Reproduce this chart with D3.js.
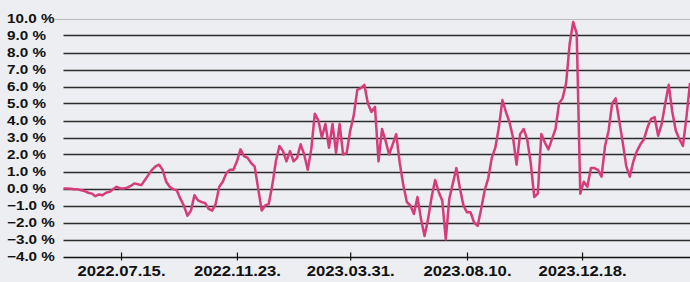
<!DOCTYPE html>
<html>
<head>
<meta charset="utf-8">
<script src="https://cdn.jsdelivr.net/npm/d3@7"></script>
<style>
  html, body { margin: 0; padding: 0; background: #eceef1; }
  svg { display: block; }
  .lbl { font-family: "Liberation Sans", Arial, sans-serif; font-weight: bold; fill: #111; }
</style>
</head>
<body>
<div id="chart"></div>
<script>
// first sample date, then one value every 4 calendar days (percent)
const startDate = "2022-05-11";
const stepDays = 4;
const values = [
  0.0, 0.0, -0.02, -0.05, -0.05, -0.1, -0.15, -0.25, -0.3, -0.45,
  -0.35, -0.4, -0.25, -0.2, -0.05, 0.1, 0.0, 0.0, 0.05, 0.15,
  0.3, 0.25, 0.2, 0.5, 0.8, 1.1, 1.3, 1.4, 1.1, 0.4,
  0.1, -0.05, -0.1, -0.6, -1.0, -1.6, -1.3, -0.4, -0.7, -0.8,
  -0.85, -1.2, -1.3, -0.9, 0.1, 0.4, 0.9, 1.1, 1.1, 1.6,
  2.3, 1.9, 1.8, 1.5, 1.3, 0.0, -1.3, -1.0, -0.9, 0.2,
  1.6, 2.5, 2.2, 1.6, 2.2, 1.6, 1.8, 2.6, 2.0, 1.1,
  2.3, 4.4, 4.0, 3.0, 3.8, 2.4, 3.8, 2.1, 3.8, 2.0,
  2.1, 3.4, 4.3, 5.8, 5.9, 6.1, 5.0, 4.5, 4.8, 1.6,
  3.5, 2.8, 2.0, 2.6, 3.2, 1.5, 0.2, -0.8, -1.0, -1.5,
  -0.5, -1.8, -2.8, -1.8, -0.5, 0.5, -0.2, -0.7, -3.0, -0.6,
  0.3, 1.2, 0.0, -1.0, -1.4, -1.4, -2.0, -2.2, -1.2, -0.1,
  0.6, 1.8, 2.4, 3.6, 5.2, 4.5, 3.9, 3.0, 1.4, 3.2,
  3.5, 2.9, 1.5, -0.5, -0.3, 3.2, 2.7, 2.3, 2.9, 3.5,
  5.0, 5.3, 6.2, 8.5, 9.8, 9.1, -0.3, 0.4, 0.1, 1.2,
  1.2, 1.1, 0.7, 2.5, 3.4, 5.0, 5.3, 4.0, 2.7, 1.3,
  0.7, 1.6, 2.2, 2.6, 2.9, 3.6, 4.1, 4.2, 3.1, 3.8,
  5.0, 6.1, 4.5, 3.4, 2.9, 2.5, 4.2, 6.2
];
const endDate = "2024-04-18";
const yTicks = [-4, -3, -2, -1, 0, 1, 2, 3, 4, 5, 6, 7, 8, 9, 10];
const xTickDates = ["2022-07-15", "2022-11-23", "2023-03-31", "2023-08-10", "2023-12-18"];

const width = 690, height = 282;
const plot = { left: 63.5, right: 690, top: 18.5, bottom: 256.5 };

const parse = d3.utcParse("%Y-%m-%d");
const t0 = parse(startDate);
const data = values.map((v, i) => ({ date: d3.utcDay.offset(t0, i * stepDays), value: v }));

const svg = d3.select("#chart").append("svg")
  .attr("width", width)
  .attr("height", height);

const x = d3.scaleUtc()
  .domain([t0, parse(endDate)])
  .range([plot.left, plot.right]);

const y = d3.scaleLinear()
  .domain([-4, 10])
  .range([plot.bottom, plot.top]);

// horizontal grid lines
svg.append("g")
  .selectAll("line")
  .data(yTicks.filter(d => d > -4))
  .join("line")
  .attr("x1", d => d === 10 ? 55 : plot.left)
  .attr("x2", plot.right)
  .attr("y1", d => Math.round(y(d)) + 0.5)
  .attr("y2", d => Math.round(y(d)) + 0.5)
  .attr("stroke", d => d === 10 ? "#b9bbbf" : "#2b2b2b")
  .attr("stroke-width", d => d === 10 ? 1 : 1.5);

// y labels
svg.append("g")
  .selectAll("text")
  .data(yTicks)
  .join("text")
  .attr("class", "lbl")
  .attr("transform", d => `translate(7,${y(d) + 4.3}) scale(1.22,1)`)
  .style("font-size", "12.5px")
  .text(d => d3.format(".1f")(d) + " %");

// x axis
const xAxis = d3.axisBottom(x)
  .tickValues(xTickDates.map(parse))
  .tickSize(0)
  .tickFormat(d3.utcFormat("%Y.%m.%d."));

const gx = svg.append("g")
  .attr("transform", `translate(0,${Math.round(plot.bottom) + 0.5})`)
  .call(xAxis);
gx.select(".domain")
  .attr("d", `M${plot.left},0H${plot.right}`)
  .attr("stroke", "#111")
  .attr("stroke-width", 1.5);
gx.selectAll(".tick line").remove();
gx.selectAll(".tick").append("line")
  .attr("y1", -5).attr("y2", 3)
  .attr("stroke", "#111")
  .attr("stroke-width", 1.2);
// scale is around the tick origin, so text stays centred
gx.selectAll(".tick text")
  .attr("class", "lbl")
  .attr("x", 0)
  .attr("y", 19)
  .attr("dy", 0)
  .attr("transform", "scale(1.15,1)")
  .style("font-size", "14.5px");

// the series line
const line = d3.line()
  .x(d => x(d.date))
  .y(d => y(d.value));

svg.append("path")
  .datum(data)
  .attr("d", line)
  .attr("fill", "none")
  .attr("stroke", "#d63c7a")
  .attr("stroke-width", 2.5)
  .attr("stroke-linejoin", "round");
</script>
</body>
</html>
